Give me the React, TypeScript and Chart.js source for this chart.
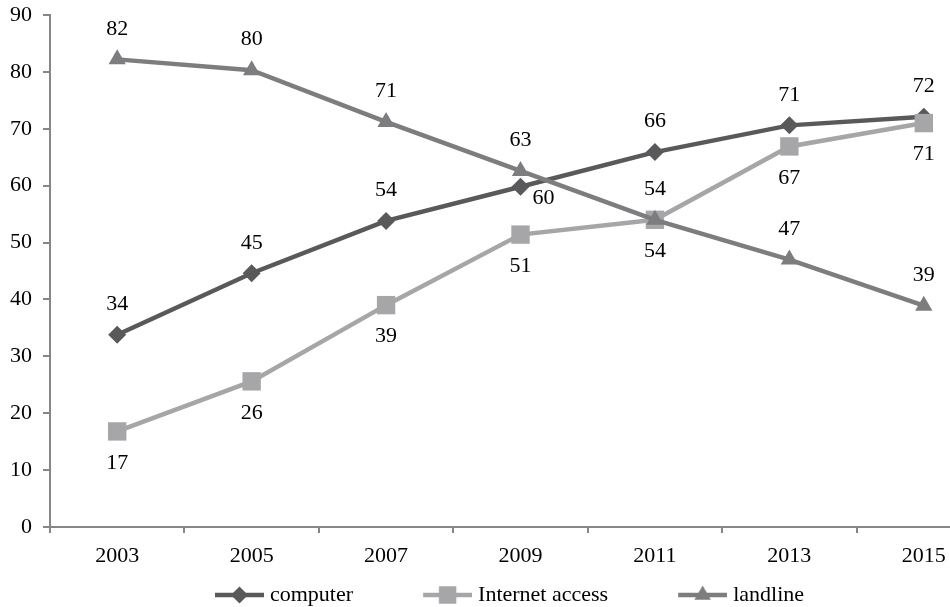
import React, { useEffect, useRef } from 'react';
import { Chart, registerables } from 'chart.js';

Chart.register(...registerables);

// ---- data ----
const years = ['2003', '2005', '2007', '2009', '2011', '2013', '2015'];
const computer = [33.8, 44.6, 53.8, 59.8, 65.9, 70.6, 72.1];
const internetAccess = [16.8, 25.6, 39.0, 51.4, 54.0, 66.9, 71.0];
const landline = [82.2, 80.3, 71.2, 62.6, 54.0, 47.0, 38.9];
const seriesNames = ['computer', 'Internet access', 'landline'];
const yMin = 0;
const yMax = 90;
const yStep = 10;

// ---- label placement (style, not data) ----
const labelPlacement = [
  ['above', 'above', 'above', 'right', 'above', 'above', 'above'],
  ['below', 'below', 'below', 'below', 'below', 'below', 'below'],
  ['above', 'above', 'above', 'above', 'above', 'above', 'above'],
];
const placementOffset: Record<string, { dx: number; dy: number }> = {
  above: { dx: 0, dy: -30.5 },
  below: { dx: 0, dy: 31.5 },
  right: { dx: 23, dy: 11.5 },
};

const FONT = "'Liberation Serif', 'Times New Roman', serif";
const AXIS = '#868686';
const colors = ['#59595b', '#a6a6a8', '#7d7d7f'];
const markers = ['rectRot', 'rect', 'triangle'];
const radii = [9, 13, 10];
const orders = [3, 2, 1];

// The original figure is cropped at the right edge: the plot continues past the
// 950px window, so the canvas is wider and clipped by its container.
const CANVAS_W = 991;
const CANVAS_H = 607;

function drawMarker(ctx: CanvasRenderingContext2D, style: string, x: number, y: number, r: number, color: string) {
  ctx.fillStyle = color;
  ctx.beginPath();
  if (style === 'rectRot') {
    ctx.moveTo(x, y - r);
    ctx.lineTo(x + r, y);
    ctx.lineTo(x, y + r);
    ctx.lineTo(x - r, y);
  } else if (style === 'rect') {
    const s = r * Math.SQRT1_2;
    ctx.rect(x - s, y - s, 2 * s, 2 * s);
  } else {
    for (let k = 0; k < 3; k++) {
      const a = (k * 2 * Math.PI) / 3;
      const px = x + Math.sin(a) * r;
      const py = y - Math.cos(a) * r;
      if (k === 0) ctx.moveTo(px, py);
      else ctx.lineTo(px, py);
    }
  }
  ctx.closePath();
  ctx.fill();
}

function makeLegendImage(i: number) {
  const c = document.createElement('canvas');
  c.width = 108;
  c.height = 26;
  const ctx = c.getContext('2d')!;
  ctx.strokeStyle = colors[i];
  ctx.lineWidth = 4.5;
  ctx.beginPath();
  ctx.moveTo(59, 13);
  ctx.lineTo(108, 13);
  ctx.stroke();
  drawMarker(ctx, markers[i], 83.5, 13, radii[i] * 0.95, colors[i]);
  return c;
}

const valueLabels = {
  id: 'valueLabels',
  afterDatasetsDraw(chart: any) {
    const ctx = chart.ctx;
    ctx.save();
    ctx.font = `22px ${FONT}`;
    ctx.fillStyle = '#000';
    ctx.textAlign = 'center';
    ctx.textBaseline = 'middle';
    chart.data.datasets.forEach((ds: any, di: number) => {
      const meta = chart.getDatasetMeta(di);
      meta.data.forEach((pt: any, i: number) => {
        const off = placementOffset[labelPlacement[di][i]];
        ctx.fillText(String(Math.round(ds.data[i])), pt.x + off.dx, pt.y + off.dy);
      });
    });
    ctx.restore();
  },
};

export default function App() {
  const ref = useRef<HTMLCanvasElement>(null);

  useEffect(() => {
    if (!ref.current) return;
    Chart.defaults.font.family = FONT;
    Chart.defaults.color = '#000';
    const images = [0, 1, 2].map(makeLegendImage);
    const series = [computer, internetAccess, landline];

    const chart = new Chart(ref.current, {
      type: 'line',
      data: {
        labels: years,
        datasets: series.map((d, i) => ({
          label: seriesNames[i],
          data: d,
          borderColor: colors[i],
          backgroundColor: colors[i],
          borderWidth: 4.5,
          pointStyle: markers[i] as any,
          pointRadius: radii[i],
          pointHoverRadius: radii[i],
          pointBackgroundColor: colors[i],
          pointBorderWidth: 0,
          tension: 0,
          fill: false,
          clip: false as any,
          order: orders[i],
        })),
      },
      options: {
        responsive: false,
        animation: false,
        devicePixelRatio: 1,
        events: [],
        layout: { autoPadding: false, padding: { left: -26, right: 0, top: 15, bottom: -9 } },
        plugins: {
          tooltip: { enabled: false },
          legend: {
            position: 'bottom',
            labels: {
              usePointStyle: true,
              pointStyleWidth: 98,
              padding: 16,
              color: '#000',
              font: { size: 22, family: FONT },
              generateLabels: () =>
                seriesNames.map((name, i) => ({
                  text: name,
                  pointStyle: images[i] as any,
                  fillStyle: colors[i],
                  strokeStyle: colors[i],
                  lineWidth: 0,
                  hidden: false,
                  datasetIndex: i,
                })),
            },
          },
        },
        scales: {
          x: {
            type: 'category',
            offset: true,
            grid: {
              offset: true,
              drawOnChartArea: false,
              drawTicks: true,
              tickLength: 6,
              tickColor: AXIS,
              lineWidth: 2,
              color: AXIS,
            },
            border: { display: true, color: AXIS, width: 2 },
            ticks: {
              padding: 10,
              color: '#000',
              font: { size: 22, family: FONT },
              maxRotation: 0,
              autoSkip: false,
            },
            afterFit: (s: any) => {
              s.height = 41;
              s.paddingLeft = 0;
              s.paddingRight = 0;
            },
          },
          y: {
            min: yMin,
            max: yMax,
            grid: {
              drawOnChartArea: false,
              drawTicks: true,
              tickLength: 7,
              tickColor: AXIS,
              lineWidth: 2,
              color: AXIS,
            },
            border: { display: true, color: AXIS, width: 2 },
            ticks: {
              stepSize: yStep,
              padding: 11,
              color: '#000',
              font: { size: 22, family: FONT },
            },
            afterFit: (s: any) => {
              s.width = 76;
              s.paddingTop = 0;
              s.paddingBottom = 0;
            },
          },
        },
      },
      plugins: [valueLabels],
    });
    return () => chart.destroy();
  }, []);

  return (
    <div
      style={{
        position: 'absolute',
        left: 0,
        top: 0,
        width: 950,
        height: 607,
        overflow: 'hidden',
        background: '#fff',
      }}
    >
      <canvas ref={ref} width={CANVAS_W} height={CANVAS_H} style={{ display: 'block' }} />
    </div>
  );
}
